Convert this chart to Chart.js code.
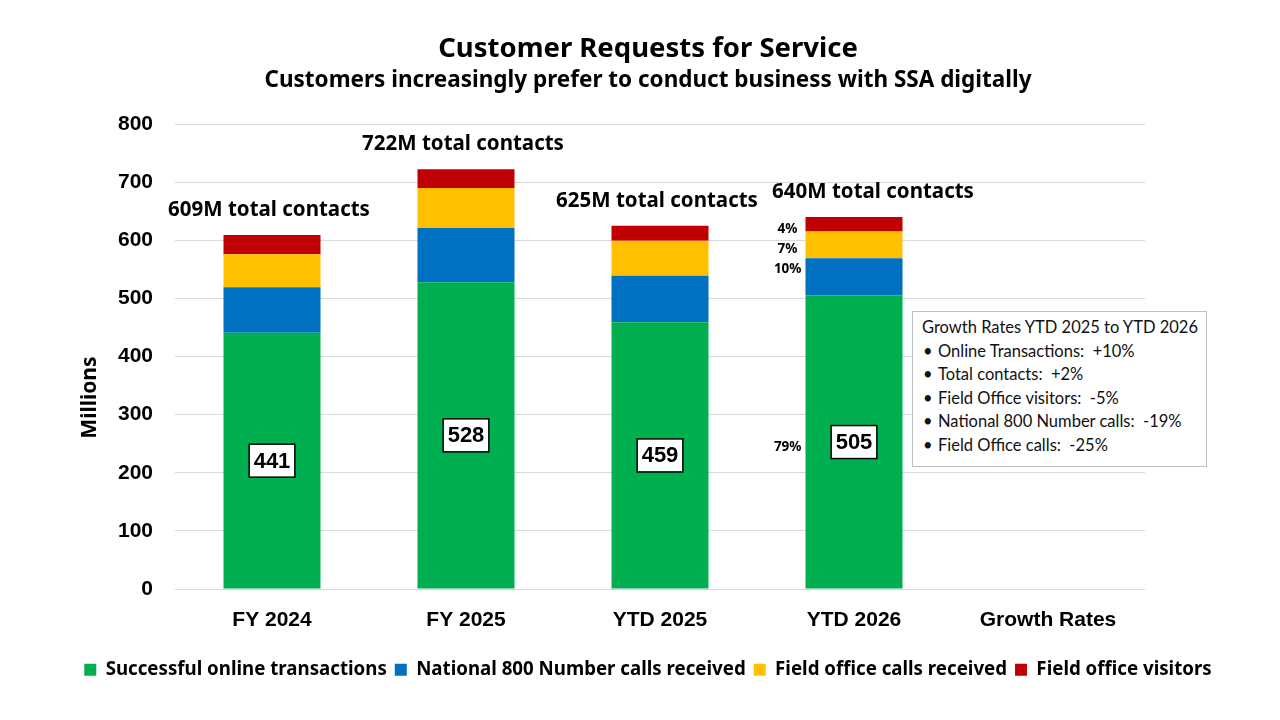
<!DOCTYPE html>
<html>
<head>
<meta charset="utf-8">
<script src="https://cdn.jsdelivr.net/npm/chart.js@4.4.1/dist/chart.umd.min.js"></script>
<style>
  html, body { margin:0; padding:0; background:#fff; }
  #wrap { position:relative; width:1280px; height:720px; }
  #growth { position:absolute; left:912px; top:311px; width:295px; height:156px;
    border:1px solid #bfbfbf; background:#fff; font-family:Lato, sans-serif;
    font-size:16.5px; color:#111; box-sizing:border-box; padding:4px 0 0 9px; line-height:23.6px; }
  #growth ul { margin:0; padding:0 0 0 16px; list-style:none; }
  #growth li { position:relative; white-space:pre; }
  #growth li::before { content:"•"; position:absolute; left:-15px; }
</style>
</head>
<body>
<div id="wrap">
<canvas id="c" width="1280" height="720"></canvas>
<div id="growth">
  <div id="growthTitle"></div>
  <ul id="growthList"></ul>
</div>
</div>
<script>
const categories = ['FY 2024', 'FY 2025', 'YTD 2025', 'YTD 2026', 'Growth Rates'];
const onlineTransactions = [441, 528, 459, 505, null];
const national800Calls = [78, 93, 80, 64, null];
const fieldOfficeCalls = [57, 69, 60, 46, null];
const fieldOfficeVisitors = [33, 32, 26, 25, null];
const seriesNames = ['Successful online transactions', 'National 800 Number calls received', 'Field office calls received', 'Field office visitors'];
const yTicks = [0, 100, 200, 300, 400, 500, 600, 700, 800];
const yTitle = 'Millions';
const growthTitle = 'Growth Rates YTD 2025 to YTD 2026';
const growthItems = ['Online Transactions:  +10%', 'Total contacts:  +2%', 'Field Office visitors:  -5%', 'National 800 Number calls:  -19%', 'Field Office calls:  -25%'];
const pctCategoryIndex = 3;

document.getElementById('growthTitle').textContent = growthTitle;
const ul = document.getElementById('growthList');
growthItems.forEach(t => { const li = document.createElement('li'); li.textContent = t; ul.appendChild(li); });

const FONT = '"Noto Sans", sans-serif';
const ARIAL = '"Liberation Sans", Arial, sans-serif';
const colors = ['#00B050', '#0070C0', '#FFC000', '#C00000'];
const allSeries = [onlineTransactions, national800Calls, fieldOfficeCalls, fieldOfficeVisitors];

const labelPlugin = {
  id: 'labelPlugin',
  afterDatasetsDraw(chart) {
    const ctx = chart.ctx;
    const ca = chart.chartArea;
    ctx.save();
    // y axis title
    ctx.save();
    ctx.translate(90, (ca.top + ca.bottom) / 2 + 41);
    ctx.rotate(-Math.PI / 2);
    ctx.font = 'bold 21px ' + FONT;
    ctx.fillStyle = '#000';
    ctx.textAlign = 'center';
    ctx.textBaseline = 'middle';
    ctx.fillText(yTitle, 0, 0);
    ctx.restore();

    const green = chart.getDatasetMeta(0).data;
    const topMeta = chart.getDatasetMeta(3).data;
    categories.forEach((c, i) => {
      if (onlineTransactions[i] == null) return;
      const g = green[i];
      const cy = (g.y + g.base) / 2;
      const txt = String(onlineTransactions[i]);
      ctx.font = 'bold 22px ' + ARIAL;
      const w = ctx.measureText(txt).width + 9;
      const h = 33;
      ctx.fillStyle = '#fff';
      ctx.fillRect(g.x - w/2, cy - h/2, w, h);
      ctx.strokeStyle = '#000';
      ctx.lineWidth = 1.5;
      ctx.strokeRect(g.x - w/2, cy - h/2, w, h);
      ctx.fillStyle = '#000';
      ctx.textAlign = 'center';
      ctx.textBaseline = 'middle';
      ctx.fillText(txt, g.x, cy + 1);
      // total label
      const total = allSeries.reduce((s, arr) => s + arr[i], 0);
      const t = topMeta[i];
      ctx.font = 'bold 20.5px ' + FONT;
      const dx = i === pctCategoryIndex ? 22 : 0;
      ctx.fillText(total + 'M total contacts', t.x + dx - 3, t.y - 25);
      if (i === pctCategoryIndex) {
        ctx.font = 'bold 13.5px ' + FONT;
        ctx.textAlign = 'right';
        const left = g.x - g.width / 2 - 4;
        const pct = allSeries.map(arr => Math.round(arr[i] / total * 100) + '%');
        ctx.fillText(pct[3], left - 4, t.y + 12);
        ctx.fillText(pct[2], left - 4, t.y + 32);
        ctx.fillText(pct[1], left, t.y + 52);
        ctx.fillText(pct[0], left, cy + 5);
      }
    });
    ctx.restore();
  }
};

new Chart(document.getElementById('c'), {
  type: 'bar',
  data: {
    labels: categories,
    datasets: allSeries.map((arr, k) => ({
      label: seriesNames[k], data: arr, backgroundColor: colors[k],
      borderWidth: 0, barPercentage: 0.5, categoryPercentage: 1.0
    }))
  },
  options: {
    responsive: false, animation: false,
    layout: { padding: { left: 16, right: 0, top: 0, bottom: 31 } },
    plugins: {
      title: { display: true, text: 'Customer Requests for Service', color: '#000',
        font: { family: FONT, size: 27.5, weight: 'bold' }, padding: { top: 33, bottom: 0 } },
      subtitle: { display: true, text: 'Customers increasingly prefer to conduct business with SSA digitally', color: '#000',
        font: { family: FONT, size: 22.5, weight: 'bold' }, padding: { top: 1, bottom: 30 } },
      legend: { position: 'bottom', labels: { color: '#000', boxWidth: 12, boxHeight: 12, padding: 8,
        font: { family: FONT, size: 18.7, weight: 'bold' } } },
      tooltip: { enabled: false }
    },
    scales: {
      x: { stacked: true, grid: { display: false, drawTicks: false }, border: { display: false },
        ticks: { color: '#000', padding: 19, font: { family: ARIAL, size: 21, weight: 'bold' } } },
      y: { stacked: true, min: 0, max: 800,
        afterBuildTicks: (s) => { s.ticks = yTicks.map(v => ({ value: v })); },
        afterFit: (s) => { s.width = 159; },
        grid: { color: '#d9d9d9', lineWidth: 1, drawTicks: false }, border: { display: false },
        ticks: { color: '#000', padding: 22, font: { family: ARIAL, size: 21, weight: 'bold' } } },
      yRight: { position: 'right', min: 0, max: 1, display: true,
        afterFit: (s) => { s.width = 135; },
        grid: { display: false, drawTicks: false }, border: { display: false },
        ticks: { display: false } }
    }
  },
  plugins: [labelPlugin]
});
</script>
</body>
</html>
